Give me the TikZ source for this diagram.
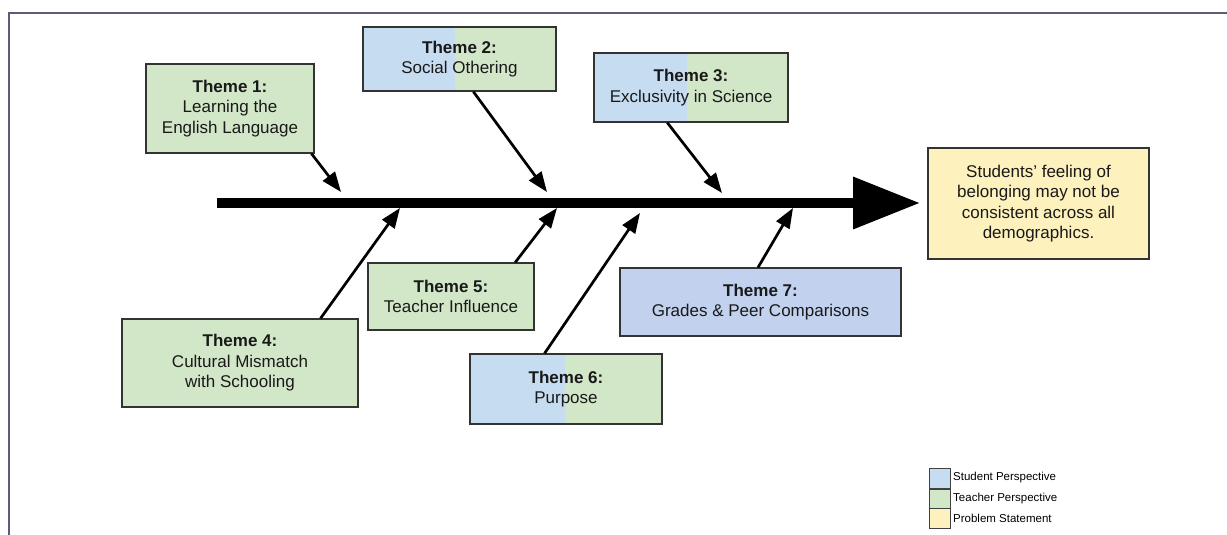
\documentclass[tikz,border=0pt]{standalone}
\usepackage{fontspec}
\setmainfont{Liberation Sans}
\usetikzlibrary{positioning, arrows.meta, calc}

\definecolor{stublue}{HTML}{C6DCF1}
\definecolor{teachgreen}{HTML}{D2E6C8}
\definecolor{probyellow}{HTML}{FDF1BD}
\definecolor{gradeblue}{HTML}{C1D1EE}
\definecolor{framegray}{HTML}{5C5C78}

\tikzset{
  theme/.style={draw=black!80, line width=1.3pt, fill=teachgreen, align=center,
    inner sep=0pt, text=black!90, font=\fontsize{17}{20.5}\selectfont},
  halfsplit/.style={path picture={\fill[stublue] (path picture bounding box.south west)
    rectangle ($(path picture bounding box.north west)!#1!(path picture bounding box.north east)$);}},
  rib/.style={line width=2.7pt, -{Triangle[length=20pt,width=15pt]}},
  legendbox/.style={draw=black!75, line width=1pt, minimum width=21pt, minimum height=20pt, inner sep=0pt},
  legendtext/.style={font=\fontsize{11.5}{12}\selectfont, inner sep=0pt}
}

\begin{document}
\begin{tikzpicture}[x=1pt, y=-1pt]
    \useasboundingbox (0,0) rectangle (1227,535);

    % Draw frame
    \draw[framegray, line width=2pt] (1227,13) -- (9,13) -- (9,535);

    % Draw spine
    \coordinate (tail) at (217,203);
    \coordinate (head) at (920,203);
    \draw[line width=10pt, -{Triangle[length=67pt,width=50pt]}] (tail) -- (head);

    % Problem statement
    \node[theme, fill=probyellow, minimum width=221pt, minimum height=111pt] (prob) at (1038.5,203.5)
      {Students' feeling of\\belonging may not be\\consistent across all\\demographics.};

    % Themes above the spine
    \node[theme, minimum width=168pt, minimum height=89pt] (t1) at (230,108.5)
      {\textbf{Theme 1:}\\Learning the\\English Language};
    \node[theme, halfsplit=0.477, minimum width=193pt, minimum height=64pt] (t2) at (459.5,59)
      {\textbf{Theme 2:}\\Social Othering};
    \node[theme, halfsplit=0.48, minimum width=194pt, minimum height=69pt] (t3) at (691,87.5)
      {\textbf{Theme 3:}\\Exclusivity in Science};

    % Themes below the spine
    \node[theme, minimum width=236pt, minimum height=88pt] (t4) at (240,363)
      {\textbf{Theme 4:}\\Cultural Mismatch\\with Schooling};
    \node[theme, minimum width=166pt, minimum height=67pt] (t5) at (451,296.5)
      {\textbf{Theme 5:}\\Teacher Influence};
    \node[theme, halfsplit=0.495, minimum width=192pt, minimum height=70pt] (t6) at (566,389)
      {\textbf{Theme 6:}\\Purpose};
    \node[theme, fill=gradeblue, minimum width=281pt, minimum height=68pt] (t7) at (760.5,302)
      {\textbf{Theme 7:}\\Grades \& Peer Comparisons};

    % Rib end points on the spine
    \coordinate (tip1) at (341,192);
    \coordinate (tip2) at (547,192);
    \coordinate (tip3) at (722,193);
    \coordinate (tip4) at (400,208);
    \coordinate (tip5) at (557,208);
    \coordinate (tip6) at (640,213);
    \coordinate (tip7) at (793,208);

    % Draw ribs
    \foreach \n/\a in {1/-29, 2/-67, 3/-124, 4/29, 5/28, 6/121, 7/94} {
      \draw[rib] (t\n.\a) -- (tip\n);
    }

    % Legend
    \node[legendbox, fill=stublue] (leg1) at (940,478) {};
    \node[legendbox, fill=teachgreen] (leg2) at (940,499) {};
    \node[legendbox, fill=probyellow] (leg3) at (940,518.5) {};
    \node[legendtext, right=2pt of leg1] (lt1) {Student Perspective};
    \node[legendtext, right=2pt of leg2] (lt2) {Teacher Perspective};
    \node[legendtext, right=2pt of leg3] (lt3) {Problem Statement};

\end{tikzpicture}
\end{document}
